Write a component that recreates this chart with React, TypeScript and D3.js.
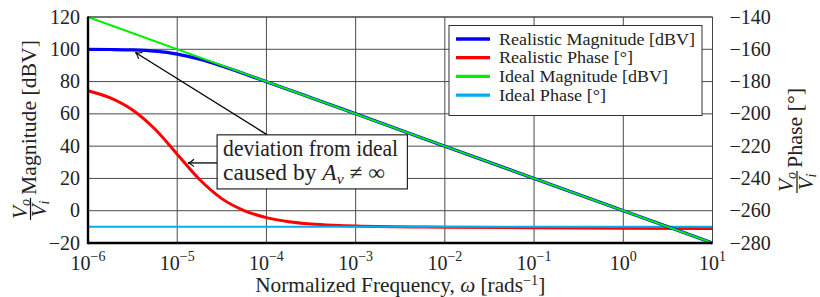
import React from 'react';
import * as d3 from 'd3';

const freqs = [1e-6, 1.78e-6, 3.16e-6, 5.62e-6, 1e-5, 1.78e-5, 3.16e-5, 5.62e-5, 1e-4, 1.78e-4, 3.16e-4, 5.62e-4, 1e-3, 1e-2, 1e-1, 1, 10];
const realMag = [99.96, 99.86, 99.59, 98.81, 96.99, 93.81, 89.59, 84.87, 79.96, 74.99, 70.0, 65.0, 60.0, 40.0, 20.0, 0.0, -20.0];
const realPhase = [-185.7, -190.1, -197.6, -209.4, -225.0, -240.7, -252.5, -259.9, -264.3, -266.8, -268.2, -269.0, -269.5, -270.2, -270.5, -270.8, -271.0];
const idealFreqs = [1e-6, 10];
const idealMag = [120, -20];
const idealPhase = [-270, -270];

const xTickExps = [-6, -5, -4, -3, -2, -1, 0, 1];
const magTicks = [-20, 0, 20, 40, 60, 80, 100, 120];
const phaseTicks = [-280, -260, -240, -220, -200, -180, -160, -140];

const legendLabels = ['Realistic Magnitude [dBV]', 'Realistic Phase [°]', 'Ideal Magnitude [dBV]', 'Ideal Phase [°]'];
const legendColors = ['#0000ff', '#ff0000', '#00ee00', '#00aeef'];
const legendTextLen = [196, 134, 169, 107];

const W = 820, H = 297;
const margin = {top: 17, right: 107.5, bottom: 54, left: 88};
const ff = {fontFamily: '"Liberation Serif"'};
const css = 'text, tspan { font-family: "Liberation Serif", "Times New Roman", serif !important; }';
const minus = (v: number) => (v < 0 ? '\u2212' + Math.abs(v) : String(v));

const x = d3.scaleLog().domain([1e-6, 10]).range([margin.left, W - margin.right]);
const yMag = d3.scaleLinear().domain([-20, 120]).range([H - margin.bottom, margin.top]);
const yPh = d3.scaleLinear().domain([-280, -140]).range([H - margin.bottom, margin.top]);
const x0 = margin.left, x1 = W - margin.right, y0 = margin.top, y1 = H - margin.bottom;

const zip = (a: number[], b: number[]) => a.map((v, i) => [v, b[i]] as [number, number]);
const magLine = d3.line<[number, number]>().x(d => x(d[0])).y(d => yMag(d[1])).curve(d3.curveMonotoneX);
const phLine = d3.line<[number, number]>().x(d => x(d[0])).y(d => yPh(d[1])).curve(d3.curveMonotoneX);

// annotation anchors, in data units
const box = {left: 2.8e-5, right: 3.8e-3, top: 47, bottom: 13.5};
const magTip = {w: 3.4e-6, v: 98};
const phaseTip = {w: 1.32e-5, v: 29.6};
const arrowFrom = {w: 1.02e-4};

const Arrow = ({sx, sy, tx, ty}: {sx: number, sy: number, tx: number, ty: number}) => {
  const a = Math.atan2(ty - sy, tx - sx);
  const hl = 7, sp = 0.55;
  const p = (ang: number) => [tx - hl * Math.cos(a + ang), ty - hl * Math.sin(a + ang)];
  const [ax, ay] = p(sp), [cx, cy] = p(-sp);
  const qx = tx - 2 * Math.cos(a), qy = ty - 2 * Math.sin(a);
  return (
    <g stroke="#000" fill="none">
      <line x1={sx} y1={sy} x2={tx} y2={ty} strokeWidth={1.3} />
      <path d={`M${ax},${ay} Q${qx},${qy} ${tx},${ty} Q${qx},${qy} ${cx},${cy}`} strokeWidth={1.1} />
    </g>
  );
};

// rotated axis title with a V_o / V_i fraction in front
const YTitle = ({barX, centerY, label, len}: {barX: number, centerY: number, label: string, len: number}) => {
  const cx = -centerY;
  return (
    <g transform="rotate(-90)" fill="#222">
      <text x={cx} y={barX - 4} textAnchor="middle" fontSize={21} style={ff}>
        <tspan fontStyle="italic">V</tspan>
        <tspan fontStyle="italic" fontSize={14} dy={3}>o</tspan>
      </text>
      <line x1={cx - 11} x2={cx + 11} y1={barX} y2={barX} stroke="#111" strokeWidth={1.2} />
      <text x={cx} y={barX + 15.5} textAnchor="middle" fontSize={21} style={ff}>
        <tspan fontStyle="italic">V</tspan>
        <tspan fontStyle="italic" fontSize={14} dy={3}>i</tspan>
      </text>
      <text x={cx + 14} y={barX + 5} fontSize={21.5} textLength={len} lengthAdjust="spacingAndGlyphs" style={ff}>{label}</text>
    </g>
  );
};

const App = () => {
  const bx = x(box.left), by = yMag(box.top), bw = x(box.right) - bx, bh = yMag(box.bottom) - by;
  const lgW = 253, lgH = 90;
  const lgX = x1 - 10.5 - lgW, lgY = y0 + 8.5;

  return (
    <svg width={W} height={H} style={{position: 'absolute', left: 0, top: 0, background: '#fff'}}>
      <style>{css}</style>
      {/* grid */}
      <g stroke="#4a4a4a" strokeWidth={1}>
        {xTickExps.map(e => (
          <line key={'gx' + e} x1={x(Math.pow(10, e))} x2={x(Math.pow(10, e))} y1={y0} y2={y1} />
        ))}
        {magTicks.map(t => (
          <line key={'gy' + t} x1={x0} x2={x1} y1={yMag(t)} y2={yMag(t)} />
        ))}
      </g>

      {/* curves */}
      <g fill="none">
        <path d={phLine(zip(freqs, realPhase)) || ''} stroke={legendColors[1]} strokeWidth={3} />
        <path d={phLine(zip(idealFreqs, idealPhase)) || ''} stroke={legendColors[3]} strokeWidth={2} />
        <path d={magLine(zip(freqs, realMag)) || ''} stroke={legendColors[0]} strokeWidth={3.2} />
        <path d={magLine(zip(idealFreqs, idealMag)) || ''} stroke={legendColors[2]} strokeWidth={2} />
      </g>

      {/* frame */}
      <line x1={x0} x2={x1} y1={y0} y2={y0} stroke="#444" />
      <line x1={x1} x2={x1} y1={y0} y2={y1} stroke="#444" />
      <line x1={x0} x2={x0} y1={y0 - 0.5} y2={y1 + 1.2} stroke="#000" strokeWidth={2.4} />
      <line x1={x0} x2={x1} y1={y1} y2={y1} stroke="#000" strokeWidth={2.4} />

      {/* tick labels */}
      <g fill="#222" fontSize={20}>
        {magTicks.map(t => (
          <text key={'ml' + t} x={x0 - 8} y={yMag(t) + 6.5} textAnchor="end" style={ff}>{minus(t)}</text>
        ))}
        {phaseTicks.map(t => (
          <text key={'pl' + t} x={x1 + 17} y={yPh(t) + 6.5} style={ff}>{minus(t)}</text>
        ))}
        {xTickExps.map(e => (
          <text key={'xl' + e} x={x(Math.pow(10, e))} y={y1 + 27} textAnchor="middle" style={ff}>
            <tspan>10</tspan>
            <tspan dy={-9} fontSize={14}>{minus(e)}</tspan>
          </text>
        ))}
      </g>

      {/* x axis title */}
      <text x={(x0 + x1) / 2} y={292} textAnchor="middle" fontSize={21} fill="#222" textLength={290} lengthAdjust="spacingAndGlyphs" style={ff}>
        <tspan>Normalized Frequency, </tspan>
        <tspan fontStyle="italic">ω</tspan>
        <tspan> [rads</tspan>
        <tspan dy={-7} fontSize={14}>{'\u22121'}</tspan>
        <tspan dy={7}>]</tspan>
      </text>

      <YTitle barX={30.5} centerY={209} label="Magnitude [dBV]" len={155} />
      <YTitle barX={797} centerY={182} label="Phase [°]" len={80} />

      {/* legend */}
      <g transform={`translate(${lgX},${lgY})`}>
        <rect width={lgW} height={lgH} fill="#fff" stroke="#333" />
        {legendLabels.map((lab, i) => {
          const cy = 13.5 + i * 18.7;
          return (
            <g key={lab}>
              <line x1={7} x2={41} y1={cy} y2={cy} stroke={legendColors[i]} strokeWidth={3.3} />
              <text x={50} y={cy + 5.5} fontSize={17} fill="#222" textLength={legendTextLen[i]} lengthAdjust="spacingAndGlyphs" style={ff}>{lab}</text>
            </g>
          );
        })}
      </g>

      {/* annotation */}
      <Arrow sx={x(arrowFrom.w)} sy={by} tx={x(magTip.w)} ty={yMag(magTip.v)} />
      <Arrow sx={bx} sy={yMag(phaseTip.v)} tx={x(phaseTip.w)} ty={yMag(phaseTip.v)} />
      <g transform={`translate(${bx},${by})`} fill="#222">
        <rect width={bw} height={bh} fill="#fff" stroke="#111" strokeWidth={1.1} />
        <text x={6} y={21} fontSize={22.5} textLength={175} lengthAdjust="spacingAndGlyphs" style={ff}>deviation from ideal</text>
        <text x={6} y={45} fontSize={22.5} textLength={162} lengthAdjust="spacingAndGlyphs" style={ff}>
          <tspan>caused by </tspan>
          <tspan fontStyle="italic">A</tspan>
          <tspan fontStyle="italic" fontSize={15} dy={4}>v</tspan>
          <tspan dy={-4}>{' \u2260 \u221e'}</tspan>
        </text>
      </g>
    </svg>
  );
};

export default App;
